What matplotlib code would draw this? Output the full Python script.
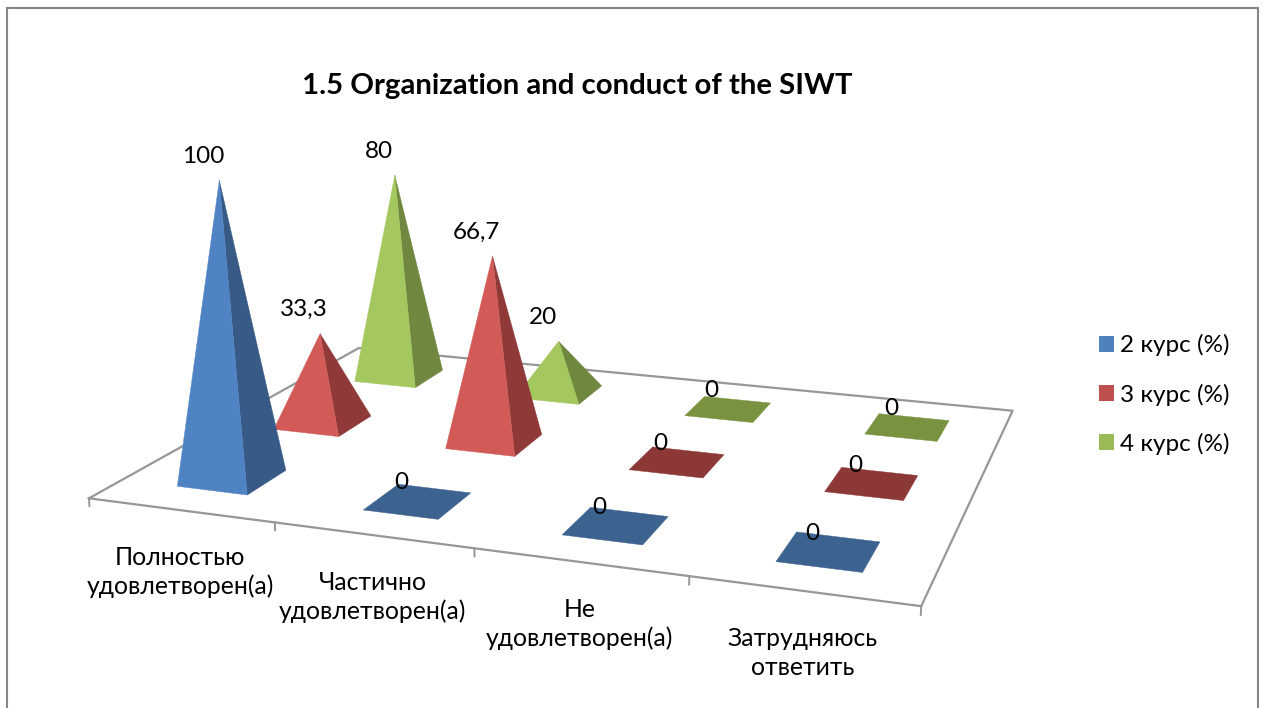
import matplotlib
matplotlib.use('Agg')
import matplotlib.pyplot as plt
from matplotlib.patches import Patch, Rectangle
from mpl_toolkits.mplot3d import proj3d
from mpl_toolkits.mplot3d.art3d import Poly3DCollection

plt.rcParams['font.family'] = ['Lato', 'Noto Sans', 'DejaVu Sans']

categories = ['Полностью\nудовлетворен(а)', 'Частично\nудовлетворен(а)',
              'Не\nудовлетворен(а)', 'Затрудняюсь\nответить']
series_names = ['2 курс (%)', '3 курс (%)', '4 курс (%)']
values_2 = [100, 0, 0, 0]
values_3 = [33.3, 66.7, 0, 0]
values_4 = [80, 20, 0, 0]
series_values = [values_2, values_3, values_4]
title = '1.5 Organization and conduct of the SIWT'

front_colors = ['#5083C4', '#D25B58', '#A5C75F']
side_colors = ['#375A87', '#8F3A39', '#708740']
flat_colors = ['#3C628F', '#8C3836', '#78923F']
legend_colors = ['#4F81BD', '#C0504D', '#9BBB59']
grey = '#979797'

W, H = 1264, 708
fig = plt.figure(figsize=(W / 100, H / 100), dpi=100)
fig.patches.append(Rectangle((6.5 / W, -0.02), 1251 / W, 1.02 - 8.5 / H, transform=fig.transFigure,
                             fill=False, edgecolor='#868686', linewidth=1.5))

# camera fitted against the floor corners of the picture
ax = fig.add_axes([-64.775 / W, (H - 328.155 - W / 2) / H, 1, W / H], projection='3d')
ax.set_xlim(0, 4)
ax.set_ylim(0, 3)
ax.set_zlim(0, 100)
ax.view_init(13.861, -70.77, -0.122)
ax.set_proj_type('persp', focal_length=0.284)
ax.set_box_aspect((4, 4 * 0.743, 4 * 0.374), zoom=0.786)
ax.set_axis_off()
ax.computed_zorder = False
ax.patch.set_alpha(0)

# floor outline and ticks
ax.plot([0, 4, 4, 0, 0], [0, 0, 3, 3, 0], [0, 0, 0, 0, 0], color=grey, lw=1.6, zorder=1)
for i in range(5):
    ax.plot([i, i], [0, 0], [0, -2.6], color=grey, lw=1.4, zorder=1)


def label(x, y, z, text, dx, dy, **kw):
    px, py, _ = proj3d.proj_transform(x, y, z, ax.get_proj())
    ax.annotate(text, (px, py), xytext=(dx, dy), textcoords='offset pixels', ha='center', va='center',
                annotation_clip=False, zorder=100, **kw)


w, d = 0.385, 0.40
for j in [2, 1, 0]:
    for i in range(4):
        v = series_values[j][i]
        x0, x1 = i + 0.5 - w / 2, i + 0.5 + w / 2
        y0, y1 = j + 0.5 - d / 2, j + 0.5 + d / 2
        z_ord = 10 * (3 - j) + i + 2
        if v == 0:
            faces = [[(x0, y0, 0), (x1, y0, 0), (x1, y1, 0), (x0, y1, 0)]]
            colors = [flat_colors[j]]
        else:
            top = (i + 0.5, j + 0.5, v)
            faces = [[(x0, y0, 0), (x1, y0, 0), top], [(x1, y0, 0), (x1, y1, 0), top]]
            colors = [front_colors[j], side_colors[j]]
        poly = Poly3DCollection(faces, facecolors=colors, edgecolors=colors, linewidths=0.3, zorder=z_ord)
        ax.add_collection3d(poly)
        text = f'{v:g}'.replace('.', ',')
        label(i + 0.5, j + 0.5, v, text, -16, 24 if v else 18, fontsize=17.5, color='black')

for i, c in enumerate(categories):
    label(i + 0.5, 0, 0, c, 0, -62, fontsize=17.8, color='black', linespacing=1.3)

fig.text(577 / W, 1 - 86 / H, title, ha='center', va='center', fontsize=21.2, fontweight='bold', color='black')

handles = [Patch(facecolor=c, edgecolor='none') for c in legend_colors]
fig.legend(handles, series_names, loc='center left', bbox_to_anchor=(1098.5 / W, 1 - 394.5 / H), frameon=False,
           fontsize=17.5, handlelength=0.62, handleheight=0.62, handletextpad=0.25, labelspacing=1.11,
           borderpad=0, borderaxespad=0)

fig.savefig('out.png', dpi=100)
